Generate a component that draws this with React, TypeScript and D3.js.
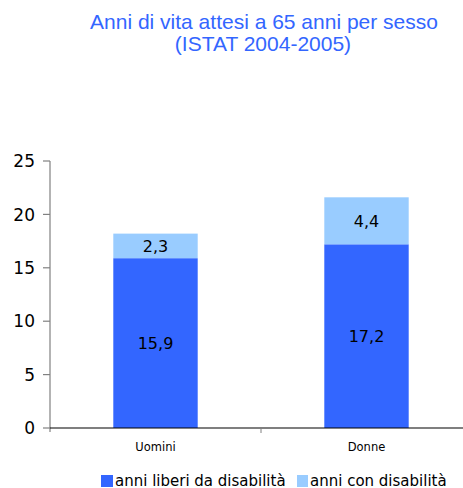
import React from "react";
import * as d3 from "d3";

const categories = ["Uomini", "Donne"];
const freeYears = [15.9, 17.2];
const disabledYears = [2.3, 4.4];
const yTicks = [0, 5, 10, 15, 20, 25];
const seriesNames = ["anni liberi da disabilità", "anni con disabilità"];
const titleLines = ["Anni di vita attesi a 65 anni per sesso", "(ISTAT 2004-2005)"];

const W = 463;
const H = 488;
const plot = { left: 50, right: 472, top: 161, bottom: 428 };
const colors = ["#3366FF", "#99CCFF"];
const fmt = (v: number) => v.toFixed(1).replace(".", ",");

export default function App() {
  const x = d3.scaleBand<string>().domain(categories).range([plot.left, plot.right]).paddingInner(0.6).paddingOuter(0.3);
  const y = d3.scaleLinear().domain([0, 25]).range([plot.bottom, plot.top]);
  const stacked = categories.map((c, i) => {
    const segs = [freeYears[i], disabledYears[i]];
    let acc = 0;
    return segs.map((v, k) => {
      const s = { cat: c, y0: acc, y1: acc + v, v, k };
      acc += v;
      return s;
    });
  });
  const mid = (plot.left + plot.right) / 2;
  const bw = x.bandwidth();
  return (
    <svg width={W} height={H} style={{ position: "absolute", left: 0, top: 0, background: "#fff" }}>
      <g fill="#3366FF" fontFamily="'Liberation Sans', Arial, sans-serif" fontSize={21} textAnchor="middle">
        <text x={264} y={29}>{titleLines[0]}</text>
        <text x={263} y={51}>{titleLines[1]}</text>
      </g>
      {stacked.map((segs) =>
        segs.map((s) => (
          <g key={s.cat + s.k}>
            <rect x={x(s.cat)!} y={y(s.y1)} width={bw} height={y(s.y0) - y(s.y1)} fill={colors[s.k]} />
            <text
              x={x(s.cat)! + bw / 2}
              y={(y(s.y0) + y(s.y1)) / 2}
              dy="0.36em"
              textAnchor="middle"
              fontFamily="'DejaVu Sans', Verdana, sans-serif"
              fontSize={16}
              fill="#000"
            >
              {fmt(s.v)}
            </text>
          </g>
        ))
      )}
      <line x1={plot.left} x2={plot.left} y1={plot.top} y2={plot.bottom + 4} stroke="#808080" strokeWidth={1.2} />
      {yTicks.map((t) => (
        <g key={t}>
          <line x1={plot.left - 7} x2={plot.left} y1={y(t)} y2={y(t)} stroke="#808080" strokeWidth={1.2} />
          <text
            x={35}
            y={y(t)}
            dy="0.36em"
            textAnchor="end"
            fontFamily="'DejaVu Sans', Verdana, sans-serif"
            fontSize={17}
            fill="#000"
          >
            {t}
          </text>
        </g>
      ))}
      <line x1={plot.left} x2={plot.right} y1={plot.bottom} y2={plot.bottom} stroke="#000" strokeWidth={1.2} />
      <line x1={mid} x2={mid} y1={plot.bottom} y2={plot.bottom + 5} stroke="#808080" strokeWidth={1} />
      {categories.map((c) => (
        <text
          key={c}
          x={x(c)! + bw / 2}
          y={451}
          textAnchor="middle"
          fontFamily="'DejaVu Sans', Verdana, sans-serif"
          fontSize={11.5}
          fill="#000"
        >
          {c}
        </text>
      ))}
      <g fontFamily="'DejaVu Sans', Verdana, sans-serif" fontSize={15} fill="#000">
        <rect x={101} y={475} width={12} height={12} fill={colors[0]} />
        <text x={115} y={486}>{seriesNames[0]}</text>
        <rect x={297} y={475} width={11} height={12} fill={colors[1]} />
        <text x={310} y={486}>{seriesNames[1]}</text>
      </g>
    </svg>
  );
}
